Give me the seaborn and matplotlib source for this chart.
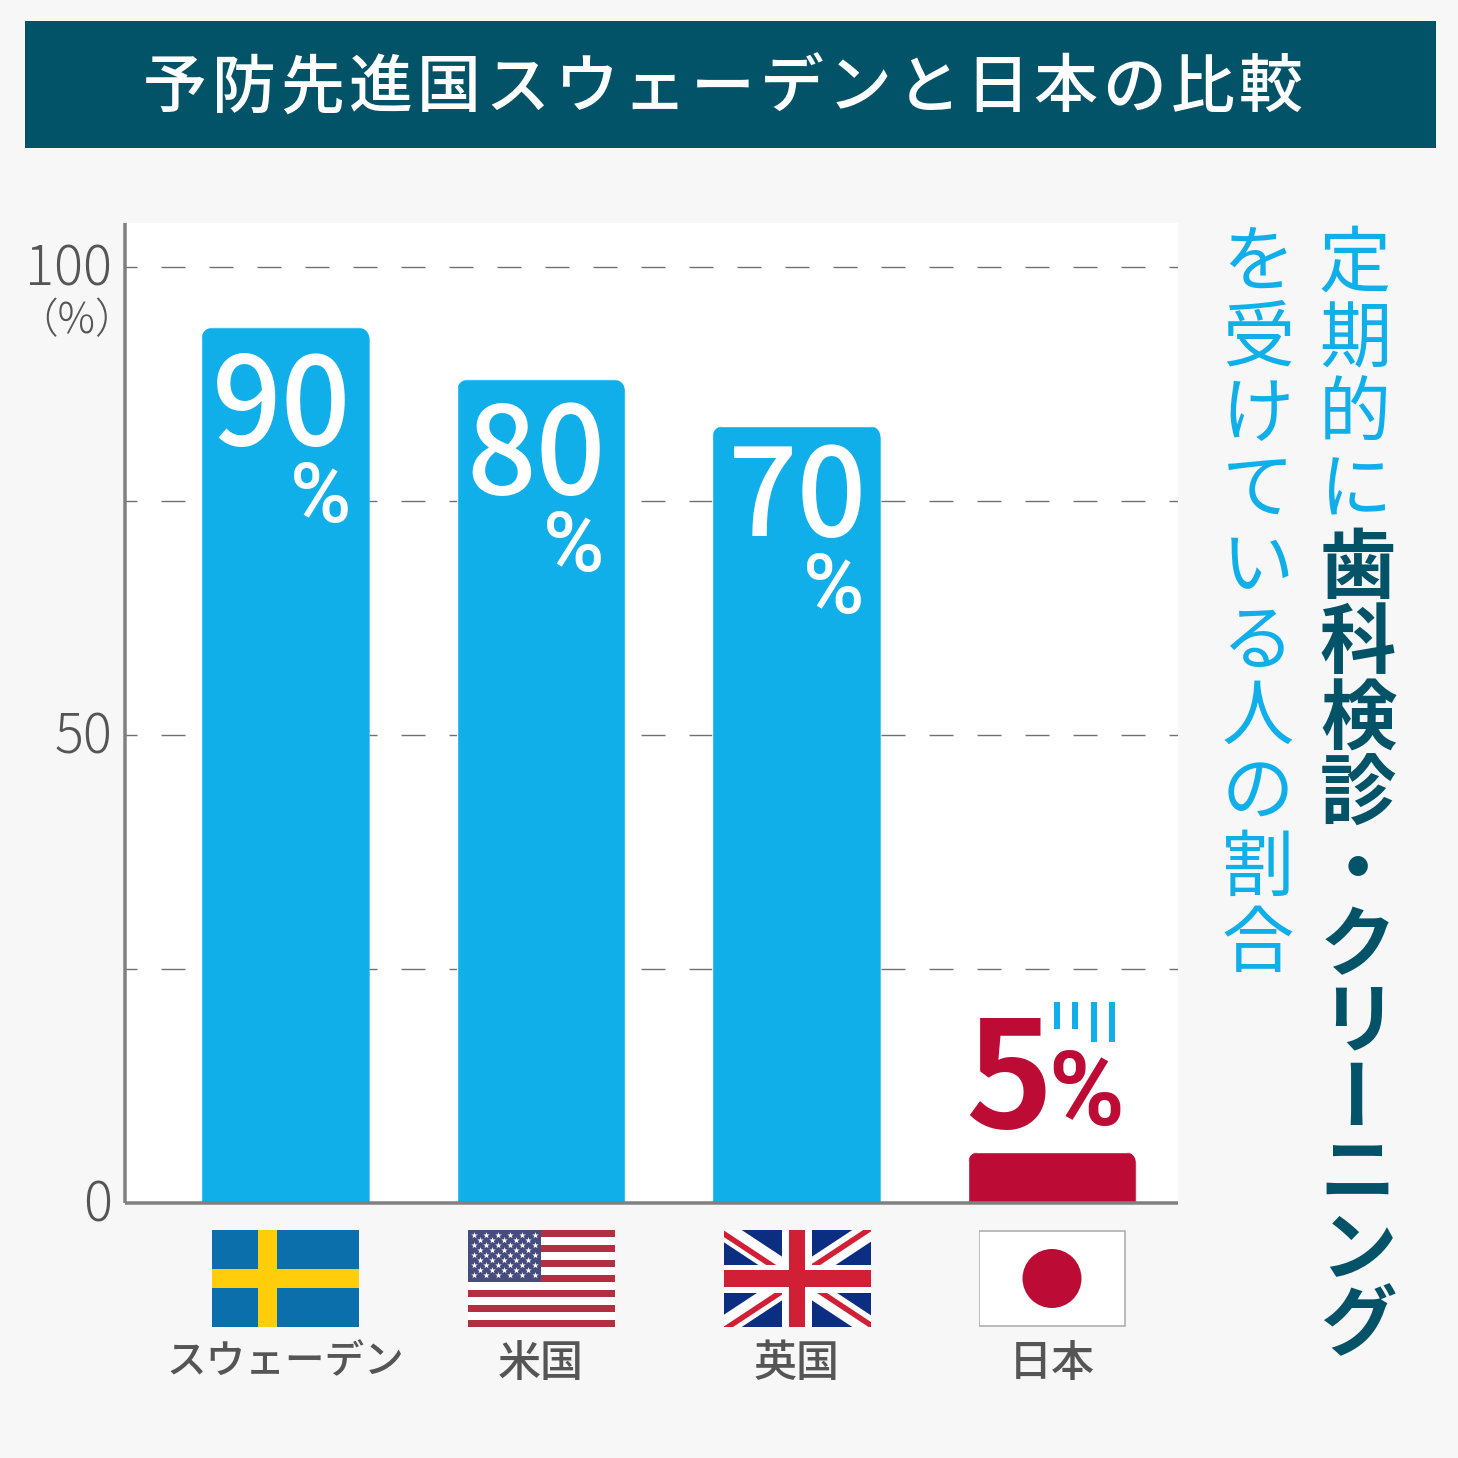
import numpy as np
import pandas as pd
import matplotlib
matplotlib.use("Agg")
import matplotlib.pyplot as plt
from matplotlib.patches import FancyBboxPatch, Rectangle, Circle
from matplotlib.transforms import ScaledTranslation
import seaborn as sns

# ---------- data ----------
countries = ["スウェーデン", "米国", "英国", "日本"]
bar_heights = [93.55, 88.0, 83.05, 5.5]      # drawn heights
value_labels = ["90", "80", "70", "5"]
bar_colors = ["#10AFE9", "#10AFE9", "#10AFE9", "#BC0C36"]
yticks = [0, 25, 50, 75, 100]
yticklabels = ["0", "", "50", "", "100"]
title = "予防先進国スウェーデンと日本の比較"
side_left = "を受けている人の割合"
side_right_a = "定期的に"
side_right_b = "歯科検診・クリーニング"

# ---------- style ----------
W = H = 1458
BG, TEAL, BLUE, RED, GREY, TXT = "#F7F7F7", "#035368", "#10AFE9", "#BC0C36", "#808080", "#555555"
sns.set_theme(style="white")
plt.rcParams["font.family"] = ["Noto Sans CJK JP", "DejaVu Sans"]
plt.rcParams["lines.scale_dashes"] = False
PX = 72 / 100  # points per pixel at dpi=100
fx = lambda x: x / W
fy = lambda y: 1 - y / H

fig = plt.figure(figsize=(W / 100, H / 100), dpi=100, facecolor=BG)
ax = fig.add_axes([fx(125), fy(1203), 1053 / W, 980 / H], facecolor="white")

df = pd.DataFrame({"country": countries, "value": bar_heights})
sns.barplot(data=df, x="country", y="value", hue="country", palette=bar_colors,
            legend=False, width=0.66, saturation=1, ax=ax, zorder=3)
ax.set_xlim(-0.628, 3.493)
ax.set_ylim(0, 104.7)
ax.set_xlabel("")
ax.set_ylabel("")

# axes furniture
for s in ("top", "right"):
    ax.spines[s].set_visible(False)
for s in ("left", "bottom"):
    ax.spines[s].set_color(GREY)
    ax.spines[s].set_linewidth(3.5 * PX)
    ax.spines[s].set_zorder(5)
    ax.spines[s].set_capstyle("butt")
ax.set_yticks(yticks)
ax.set_yticklabels(yticklabels, fontsize=39, fontweight="light", color=TXT, va="center_baseline")
ax.tick_params(axis="y", length=0, pad=13 * PX)
ax.tick_params(axis="x", length=0, pad=139 * PX, labelsize=31, labelcolor=TXT)
for t in ax.get_yticklabels():
    t.set_transform(t.get_transform() + ScaledTranslation(0, 3 / 100, fig.dpi_scale_trans))
for t in ax.get_xticklabels():
    t.set_fontweight("medium")
ax.get_xticklabels()[0].set_fontsize(28.5)
ax.yaxis.grid(True, color="#707070", linewidth=1.4 * PX,
              linestyle=(12 * PX, (24 * PX, 24 * PX)), zorder=1)
ax.xaxis.grid(False)
ax.set_axisbelow(True)
fig.text(fx(76), fy(321), "（%）", fontsize=30, fontweight="light", color=TXT, ha="center", va="center")

# rounded top corners for the bars
fig.canvas.draw()
for bar in ax.patches:
    (x0, y0), (x1, y1) = ax.transData.transform(
        [(bar.get_x(), bar.get_y()), (bar.get_x() + bar.get_width(), bar.get_height())])
    r = 14
    clip = FancyBboxPatch((x0 + r, y0 - 50), x1 - x0 - 2 * r, y1 - y0 + 50 - r,
                          boxstyle=f"round,pad={r},rounding_size={r}", transform=None)
    bar.set_clip_path(clip)

# value labels, anchored to each bar
num_off = [(-4, -69), (-4.5, -66), (1, -62), (-43, 83)]
pct_off = [(35, -163), (33, -160), (37, -156), (34, 66)]
for i, (v, lab) in enumerate(zip(bar_heights, value_labels)):
    c = "white" if i < 3 else RED
    ax.annotate(lab, (i, v), xytext=num_off[i], textcoords="offset pixels", ha="center", va="center_baseline",
                fontsize=88 if i < 3 else 107, fontweight="medium" if i < 3 else "bold", color=c, zorder=6,
                annotation_clip=False)
    ax.annotate("%", (i, v), xytext=pct_off[i], textcoords="offset pixels", ha="center", va="center_baseline",
                fontsize=60 if i < 3 else 74, fontweight="medium" if i < 3 else "bold", color=c, zorder=6,
                family="Roboto", annotation_clip=False)

# small accent strokes over the 5 %
for x, y1 in zip([1057, 1075, 1094, 1112], [1029, 1029, 1042, 1042]):
    fig.add_artist(Rectangle((fx(x - 3), fy(y1)), 6 / W, (y1 - 1002) / H, transform=fig.transFigure,
                             color=BLUE, lw=0, zorder=7))

# title banner
fig.add_artist(Rectangle((fx(25), fy(148)), 1411 / W, 127 / H, transform=fig.transFigure, color=TEAL, lw=0))
for i, ch in enumerate(title):
    fig.text(fx(175 + i * 68.5), fy(82), ch, fontsize=46, fontweight="medium", color="white",
             ha="center", va="center_baseline")

# vertical captions
def vertical(chars, x, y0, step, **kw):
    for i, ch in enumerate(chars):
        rot = 90 if ch == "ー" else 0
        dy = -13 if ch == "ー" else 0
        fig.text(fx(x), fy(y0 + i * step + dy), ch, ha="center", va="center", rotation=rot, **kw)

vertical(side_left, 1258, 265, 75.6, fontsize=52, fontweight="normal", color=BLUE)
vertical(side_right_a, 1355, 265, 75.7, fontsize=52, fontweight="normal", color=BLUE)
vertical(side_right_b, 1358, 569, 75.7, fontsize=55, fontweight="bold", color=TEAL)

# flags
FL_W, FL_H = 147, 97
def flag_axes(cx):
    a = fig.add_axes([fx(cx - FL_W / 2), fy(1327), FL_W / W, FL_H / H])
    a.set_xlim(0, FL_W); a.set_ylim(0, FL_H); a.axis("off")
    return a

# Sweden
a = flag_axes(285.5)
a.add_patch(Rectangle((0, 0), FL_W, FL_H, color="#0B6FAB", lw=0))
a.add_patch(Rectangle((46, 0), 19, FL_H, color="#FFCD0A", lw=0))
a.add_patch(Rectangle((0, 39), FL_W, 19.5, color="#FFCD0A", lw=0))

# USA
a = flag_axes(541)
for k in range(13):
    a.add_patch(Rectangle((0, FL_H - (k + 1) * FL_H / 13), FL_W, FL_H / 13,
                          color="#B22E41" if k % 2 == 0 else "white", lw=0))
a.add_patch(Rectangle((0, FL_H * 6 / 13), 73, FL_H * 7 / 13, color="#474C7F", lw=0))
sx, sy = [], []
for r in range(9):
    cols = 6 if r % 2 == 0 else 5
    for c in range(cols):
        sx.append(6 + c * 12.2 + (0 if r % 2 == 0 else 6.1))
        sy.append(FL_H - 5 - r * 5.0)
a.scatter(sx, sy, marker="*", s=24, color="white", lw=0, zorder=3)

# UK
a = flag_axes(797)
a.add_patch(Rectangle((0, 0), FL_W, FL_H, color="#0B2E82", lw=0))
UKRED = "#D12036"
cx, cy = FL_W / 2, FL_H / 2
quads = [(-1, 1, -3.5), (1, 1, 1.5), (-1, -1, -3), (1, -1, 2)]
for sgx, sgy, oy in quads:
    a.plot([cx, cx + sgx * cx * 1.1], [cy, cy + sgy * cy * 1.1], color="white", lw=20 * PX,
           solid_capstyle="butt", zorder=2)
    a.plot([cx, cx + sgx * cx * 1.1], [cy + oy, cy + oy + sgy * cy * 1.1], color=UKRED, lw=5.5 * PX,
           solid_capstyle="butt", zorder=3)
a.add_patch(Rectangle((cx - 15, 0), 30, FL_H, color="white", lw=0, zorder=4))
a.add_patch(Rectangle((0, cy - 14), FL_W, 28, color="white", lw=0, zorder=4))
a.add_patch(Rectangle((cx - 8, 0), 16, FL_H, color=UKRED, lw=0, zorder=5))
a.add_patch(Rectangle((0, cy - 8.5), FL_W, 17, color=UKRED, lw=0, zorder=5))

# Japan
a = flag_axes(1052)
a.add_patch(Rectangle((0.7, 0.7), FL_W - 1.4, FL_H - 1.4, facecolor="white", edgecolor="#A8A8A8", lw=1.5 * PX))
a.add_patch(Circle((FL_W / 2, FL_H / 2), 29.5, color=RED, lw=0))

fig.savefig("out.png", dpi=100, facecolor=BG)
